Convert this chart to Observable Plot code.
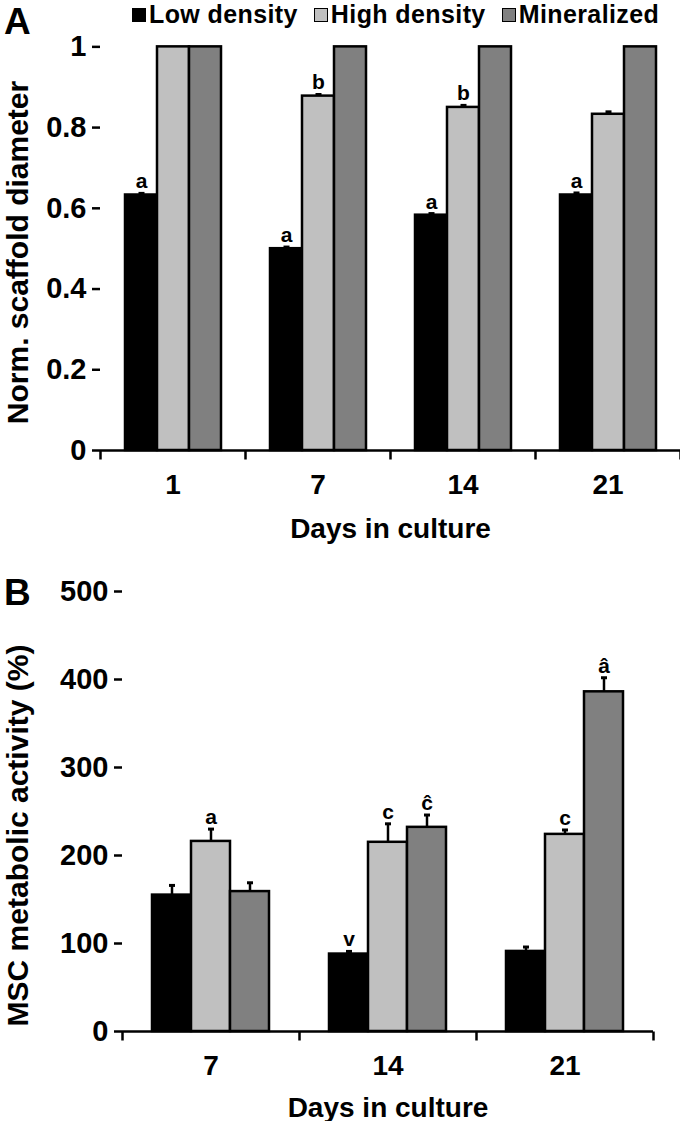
<!DOCTYPE html>
<html><head><meta charset="utf-8">
<script src="https://cdn.jsdelivr.net/npm/d3@7"></script>
<script src="https://cdn.jsdelivr.net/npm/@observablehq/plot@0.6"></script>
<style>
body{margin:0;background:#fff;}
#wrap{position:relative;width:680px;height:1121px;overflow:hidden;background:#fff;font-family:"Liberation Sans",Arial,sans-serif;font-weight:bold;color:#000;}
.abs{position:absolute;}
.letter{font-size:37px;font-weight:bold;line-height:37px;}
#legend{position:absolute;left:132px;top:2px;display:flex;align-items:center;font-size:25px;line-height:25px;letter-spacing:0.4px;white-space:nowrap;}
#legend .item{display:flex;align-items:center;margin-right:16px;}
#legend .sw{box-sizing:border-box;width:14px;height:14px;border:1.5px solid #000;margin-right:3px;margin-top:1px;}
svg{overflow:visible;}
</style></head><body><div id="wrap"></div>
<script>
// ---------- data ----------
const series = ["Low density", "High density", "Mineralized"];
const seriesColors = ["#000000", "#c0c0c0", "#808080"];

// Panel A: normalized scaffold diameter
const daysA = ["1", "7", "14", "21"];
const lowA = [0.633, 0.500, 0.583, 0.633];
const highA = [1.000, 0.878, 0.850, 0.833];
const minA = [1.000, 1.000, 1.000, 1.000];
const errLowA = [0.004, 0.004, 0.004, 0.005];
const errHighA = [0.000, 0.004, 0.005, 0.006];
const errMinA = [0.000, 0.000, 0.000, 0.000];
const sigLowA = ["a", "a", "a", "a"];
const sigHighA = ["", "b", "b", ""];
const sigMinA = ["", "", "", ""];
const yTicksA = [0, 0.2, 0.4, 0.6, 0.8, 1];

// Panel B: MSC metabolic activity (%)
const daysB = ["7", "14", "21"];
const lowB = [155, 88, 91];
const highB = [216, 215, 224];
const minB = [159, 232, 386];
const errLowB = [11, 3, 5];
const errHighB = [14, 21, 5];
const errMinB = [10, 14, 16];
const sigLowB = ["", "v", ""];
const sigHighB = ["a", "c", "c"];
const sigMinB = ["", "ĉ", "â"];
const yTicksB = [0, 100, 200, 300, 400, 500];

// ---------- helpers ----------
function buildRows(days, vals, errs, sigs) {
  const rows = [];
  days.forEach((d, i) => {
    series.forEach((s, j) => {
      rows.push({day: d, series: s, value: vals[j][i], err: errs[j][i], sig: sigs[j][i]});
    });
  });
  return rows;
}
const capSymbol = {draw(ctx, size) { const r = Math.sqrt(size / Math.PI); ctx.moveTo(-r, 0); ctx.lineTo(r, 0); }};
const downTick = {draw(ctx, size) { const r = Math.sqrt(size / Math.PI); ctx.moveTo(0, 0); ctx.lineTo(0, 2 * r); }};
const FONT = '"Liberation Sans",Arial,sans-serif';

function panel(rows, days, cfg) {
  return Plot.plot({
    width: 680,
    height: cfg.height,
    marginLeft: cfg.ml, marginRight: cfg.mr, marginTop: cfg.mt, marginBottom: cfg.mb,
    style: {fontFamily: FONT, fontWeight: "bold", color: "#000", background: "none", overflow: "visible"},
    fx: {domain: days, paddingInner: 0, paddingOuter: 0},
    x: {domain: series, paddingInner: 0, paddingOuter: 0.75, axis: null},
    y: {domain: cfg.yDomain},
    color: {domain: series, range: seriesColors},
    marks: [
      Plot.barY(rows, {fx: "day", x: "series", y: "value", fill: "series", stroke: "#000", strokeWidth: 2.5}),
      Plot.ruleX(rows.filter(d => d.err > 0), {fx: "day", x: "series", y1: "value", y2: d => d.value + d.err, stroke: "#000", strokeWidth: 2.5}),
      Plot.dot(rows.filter(d => d.err > 0), {fx: "day", x: "series", y: d => d.value + d.err, symbol: capSymbol, r: 3, stroke: "#000", strokeWidth: 3, fill: "none"}),
      Plot.text(rows.filter(d => d.sig), {fx: "day", x: "series", y: d => d.value + d.err, text: "sig", dy: -5, lineAnchor: "bottom", fontSize: 21, fontWeight: "bold", fill: "#000"}),
      Plot.ruleY([0], {stroke: "#000", strokeWidth: 2.5}),
      Plot.dot(days, {fx: d => d, frameAnchor: "bottom-left", symbol: downTick, r: 4.5, stroke: "#000", strokeWidth: 2.5}),
      Plot.dot([days[days.length - 1]], {fx: d => d, frameAnchor: "bottom-right", symbol: downTick, r: 4.5, stroke: "#000", strokeWidth: 2.5}),
      Plot.axisY({ticks: cfg.yTicks, tickFormat: d => String(d), tickSize: 8, tickPadding: 6, strokeWidth: 2.5, fontSize: 29, fontWeight: "bold", line: true, label: null}),
      Plot.text([cfg.yLabel], {fx: () => days[0], frameAnchor: "left", dx: -cfg.yLabelOffset, dy: cfg.yLabelDy, rotate: -90,
        lineAnchor: "top", textAnchor: "middle", fontSize: 30, fontWeight: "bold", fill: "#000"}),
      Plot.axisFx({anchor: "bottom", tickSize: 0, tickPadding: 24, fontSize: 28, fontWeight: "bold",
        label: "Days in culture", labelAnchor: "center", labelArrow: "none", labelOffset: cfg.fxLabelOffset})
    ]
  });
}

// ---------- build ----------
const wrap = document.getElementById("wrap");

const rowsA = buildRows(daysA, [lowA, highA, minA], [errLowA, errHighA, errMinA], [sigLowA, sigHighA, sigMinA]);
const plotA = panel(rowsA, daysA, {
  height: 560, ml: 100, mr: 0, mt: 6, mb: 110,
  yDomain: [0, 1.1], yTicks: yTicksA, yLabel: "Norm. scaffold diameter", yLabelOffset: 94, yLabelDy: 24,
  fxLabelOffset: 87
});
plotA.style.position = "absolute"; plotA.style.left = "0px"; plotA.style.top = "0px";
wrap.appendChild(plotA);

const rowsB = buildRows(daysB, [lowB, highB, minB], [errLowB, errHighB, errMinB], [sigLowB, sigHighB, sigMinB]);
const plotB = panel(rowsB, daysB, {
  height: 561, ml: 122, mr: 27, mt: 31, mb: 90,
  yDomain: [0, 500], yTicks: yTicksB, yLabel: "MSC metabolic activity (%)", yLabelOffset: 116, yLabelDy: 24,
  fxLabelOffset: 85
});
plotB.style.position = "absolute"; plotB.style.left = "0px"; plotB.style.top = "560px";
wrap.appendChild(plotB);

// panel letters
const la = document.createElement("div"); la.className = "abs letter"; la.textContent = "A"; la.style.left = "4px"; la.style.top = "3px"; wrap.appendChild(la);
const lb = document.createElement("div"); lb.className = "abs letter"; lb.textContent = "B"; lb.style.left = "4px"; lb.style.top = "574px"; wrap.appendChild(lb);

// legend
const leg = document.createElement("div"); leg.id = "legend";
series.forEach((s, i) => {
  const it = document.createElement("div"); it.className = "item";
  const sw = document.createElement("div"); sw.className = "sw"; sw.style.background = seriesColors[i];
  const tx = document.createElement("span"); tx.textContent = s;
  it.appendChild(sw); it.appendChild(tx); leg.appendChild(it);
});
wrap.appendChild(leg);
</script>
</body></html>
